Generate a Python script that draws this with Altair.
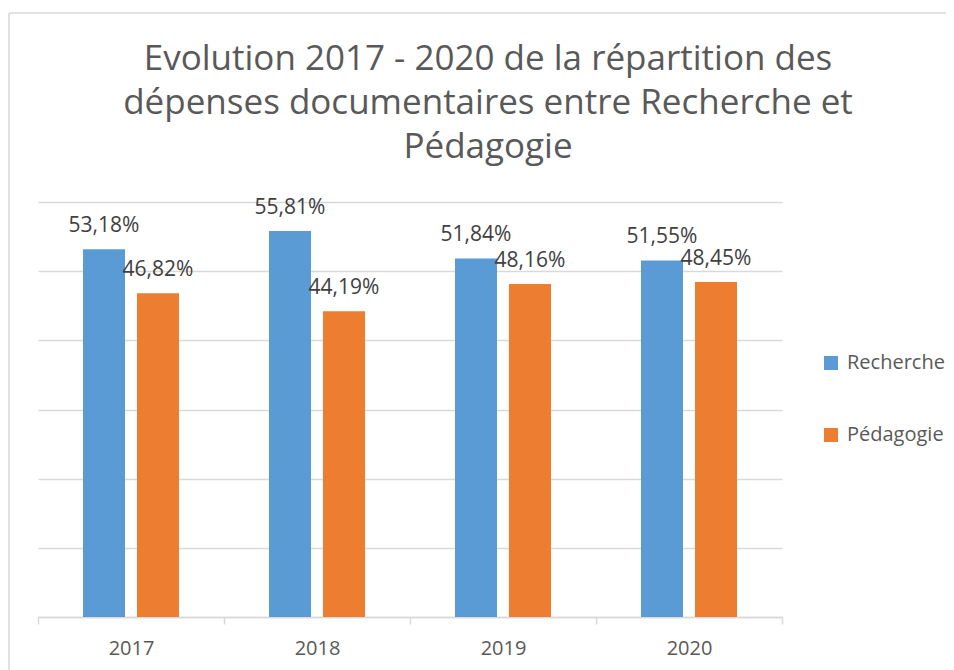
import altair as alt
import pandas as pd

years = ["2017", "2018", "2019", "2020"]
series = ["Recherche", "Pédagogie"]
recherche = [53.18, 55.81, 51.84, 51.55]
pedagogie = [46.82, 44.19, 48.16, 48.45]
colors = ["#5B9BD5", "#ED7D31"]
title_lines = [
    "Evolution 2017 - 2020 de la répartition des",
    "dépenses documentaires entre Recherche et",
    "Pédagogie",
]

rows = []
for i, y in enumerate(years):
    for s, vals in zip(series, [recherche, pedagogie]):
        v = vals[i]
        rows.append({"year": y, "serie": s, "value": v,
                     "label": f"{v:.2f}".replace(".", ",") + "%"})
df = pd.DataFrame(rows)

FONT = "Open Sans"

x = alt.X("year:N", title=None, sort=years,
          scale=alt.Scale(paddingInner=0, paddingOuter=0),
          axis=alt.Axis(labelAngle=0, labelFontSize=20, labelColor="#595959",
                        labelFont=FONT, domainColor="#d9d9d9", domainWidth=1.5,
                        tickColor="#d9d9d9", tickSize=7, tickWidth=1.5,
                        tickBand="extent", labelPadding=14, grid=False))
xoff = alt.XOffset("serie:N", sort=series,
                   scale=alt.Scale(paddingInner=0.222, paddingOuter=0.833))
y = alt.Y("value:Q", title=None, scale=alt.Scale(domain=[0, 60]),
          axis=alt.Axis(values=[0, 10, 20, 30, 40, 50, 60], labels=False,
                        ticks=False, domain=False, gridColor="#d9d9d9",
                        gridWidth=1.5))
color = alt.Color("serie:N", sort=series,
                  scale=alt.Scale(domain=series, range=colors),
                  legend=alt.Legend(title=None, orient="none", legendX=783,
                                    legendY=151, symbolType="square",
                                    symbolSize=196, symbolStrokeWidth=0,
                                    labelFontSize=20, labelFont=FONT,
                                    labelColor="#595959", rowPadding=52,
                                    labelOffset=6, padding=0))

bars = alt.Chart(df).mark_bar().encode(x=x, xOffset=xoff, y=y, color=color)
labels = alt.Chart(df).mark_text(font=FONT, fontSize=21, color="#404040",
                                 baseline="alphabetic", dy=-17).encode(
    x=alt.X("year:N", sort=years), xOffset=xoff, y="value:Q", text="label:N")

one = pd.DataFrame({"k": [0]})
left_border = alt.Chart(one).mark_rule(color="#d9d9d9", strokeWidth=1.5).encode(
    x=alt.value(-29), y=alt.value(-189), y2=alt.value(470))
top_border = alt.Chart(one).mark_rule(color="#d9d9d9", strokeWidth=1.5).encode(
    x=alt.value(-29), x2=alt.value(930), y=alt.value(-189))
title = alt.Chart(one).mark_text(font=FONT, fontSize=35, color="#595959",
                                 align="center", baseline="alphabetic",
                                 lineHeight=44).encode(
    x=alt.value(450), y=alt.value(-132), text=alt.value(title_lines))

chart = alt.layer(bars, labels, left_border, top_border, title).properties(
    width=744, height=415,
    autosize=alt.AutoSizeParams(type="none"),
    padding={"left": 30, "top": 194, "right": 164, "bottom": 53},
).configure_view(stroke=None)

chart.save("out.html", embed_options={"renderer": "svg", "actions": False})
